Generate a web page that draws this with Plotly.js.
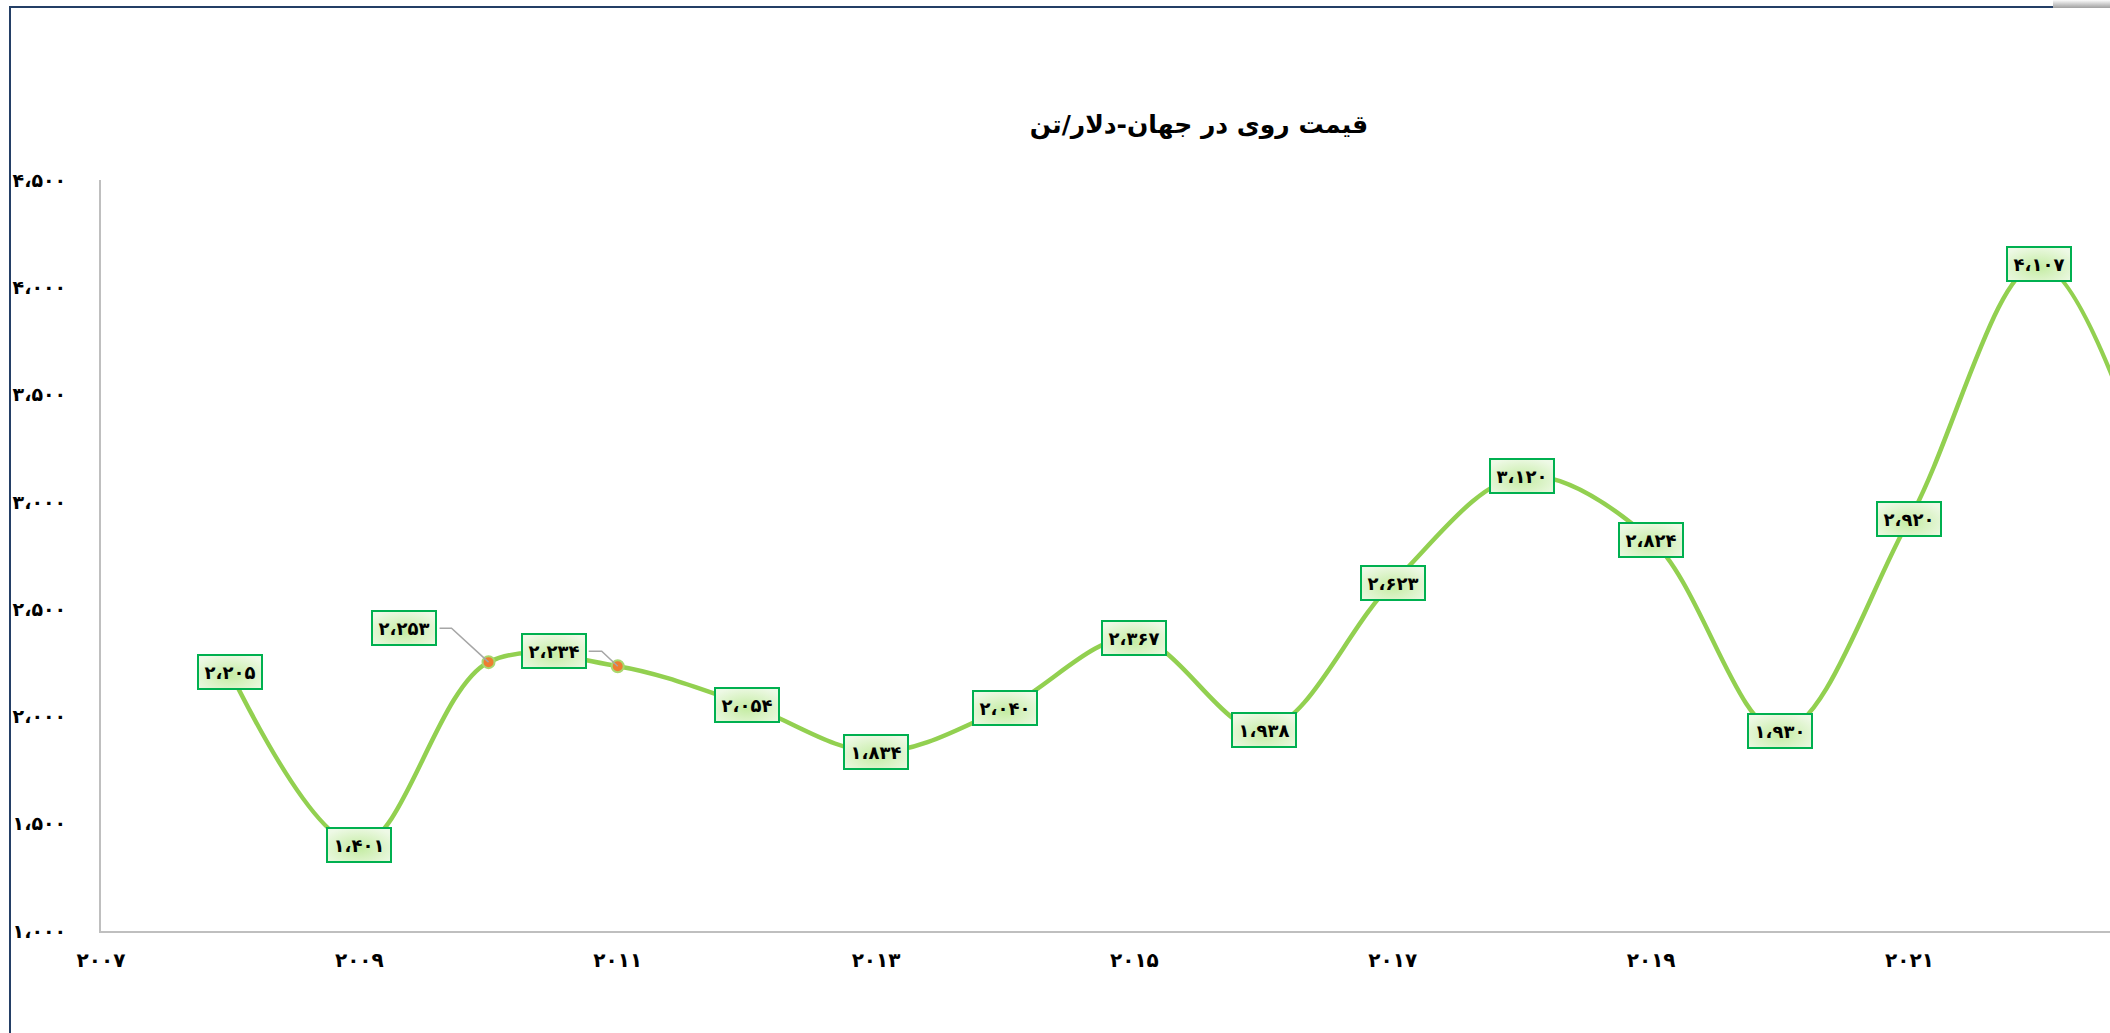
<!DOCTYPE html>
<html><head><meta charset="utf-8">
<script src="https://cdn.plot.ly/plotly-3.0.1.min.js"></script>
<style>
html,body{margin:0;padding:0;background:#fff;overflow:hidden;width:2110px;height:1033px;}
#frame{position:absolute;left:9px;top:6px;border:2px solid #243F66;width:2370px;height:1100px;background:#fff;}
#chart{width:2370px;height:1100px;}
#corner{position:absolute;left:2053px;top:0;width:57px;height:8px;background:linear-gradient(#fbfbfb,#a0a0a0);}
#gdefs{position:absolute;left:0;top:0;width:0;height:0;}
</style></head><body>
<svg id="gdefs" width="0" height="0"><defs>
  <radialGradient id="lblgrad" cx="50%" cy="60%" r="65%">
    <stop offset="0%" stop-color="#C4ECA2"/>
    <stop offset="100%" stop-color="#EEF9E6"/>
  </radialGradient>
</defs></svg>
<div id="frame"><div id="chart"></div></div>
<div id="corner"></div>
<script>
// ---- data ----
const years  = [2008, 2009, 2010, 2011, 2012, 2013, 2014, 2015, 2016, 2017, 2018, 2019, 2020, 2021, 2022, 2023];
const prices = [2205, 1401, 2253, 2234, 2054, 1834, 2040, 2367, 1938, 2623, 3120, 2824, 1930, 2920, 4107, 2850];
const leaderYears = [2010, 2011];
const yTickValues = [1000, 1500, 2000, 2500, 3000, 3500, 4000, 4500];
const xTickValues = [2007, 2009, 2011, 2013, 2015, 2017, 2019, 2021];
const labelledYears = [2008, 2009, 2010, 2011, 2012, 2013, 2014, 2015, 2016, 2017, 2018, 2019, 2020, 2021, 2022];
const chartTitle = 'قیمت روی در جهان-دلار/تن';

// ---- helpers ----
const FA = '۰۱۲۳۴۵۶۷۸۹';
function fa(n, group) {
  let s = String(n);
  if (group && s.length > 3) s = s.slice(0, -3) + '،' + s.slice(-3);
  return s.replace(/\d/g, d => FA[d]);
}
const FONT = 'DejaVu Sans, Noto Sans, sans-serif';
// label box shift (px, y up) and leader path (px, y up) relative to the point
const leaderStyle = {
  2010: {shift: [-85, 34], path: 'M -49 34 L -37 34 L 0 0'},
  2011: {shift: [-64, 15], path: 'M -29 15 L -16 15 L 0 0'}
};

const lineTrace = {
  x: years, y: prices, type: 'scatter', mode: 'lines',
  line: {color: '#92D050', width: 4.5, shape: 'spline', smoothing: 1},
  hoverinfo: 'skip'
};
const markYears = years.filter(y => leaderYears.includes(y));
const markTrace = {
  x: markYears, y: markYears.map(y => prices[years.indexOf(y)]),
  type: 'scatter', mode: 'markers',
  marker: {color: '#ED7D31', size: 12, line: {color: '#A9D86E', width: 2}},
  hoverinfo: 'skip'
};

const annotations = years.filter(y => labelledYears.includes(y)).map(yr => {
  const v = prices[years.indexOf(yr)];
  const st = leaderStyle[yr];
  return {
    x: yr, y: v, xref: 'x', yref: 'y',
    text: fa(v, true), showarrow: false,
    xshift: st ? st.shift[0] : 0, yshift: st ? st.shift[1] : 0,
    bgcolor: '#D6F2C2', bordercolor: '#00B050', borderwidth: 2, borderpad: 0,
    width: 62, height: 32,
    font: {family: FONT, size: 18, color: '#000', weight: 700}
  };
});

const shapes = leaderYears.map(yr => ({
  type: 'path', xref: 'x', yref: 'y',
  xsizemode: 'pixel', ysizemode: 'pixel',
  xanchor: yr, yanchor: prices[years.indexOf(yr)],
  path: leaderStyle[yr].path,
  line: {color: '#A6A6A6', width: 1.5}, layer: 'above'
}));

const layout = {
  width: 2370, height: 1100,
  margin: {l: 90, r: 84, t: 172, b: 177, pad: 0},
  paper_bgcolor: '#fff', plot_bgcolor: '#fff',
  showlegend: false, hovermode: false,
  title: {
    text: chartTitle, x: 0.5, xref: 'paper', xanchor: 'center',
    y: 0.8945, yref: 'container', yanchor: 'middle',
    font: {family: FONT, size: 25, color: '#000', weight: 700}
  },
  xaxis: {
    range: [2007, 2024], showgrid: false, zeroline: false,
    showline: true, linecolor: '#BFBFBF', linewidth: 2,
    ticks: '', tickvals: xTickValues, ticktext: xTickValues.map(v => fa(v, false)),
    ticklabelstandoff: 10,
    tickfont: {family: FONT, size: 20, color: '#000', weight: 700}
  },
  yaxis: {
    range: [1000, 4500], showgrid: false, zeroline: false,
    showline: true, linecolor: '#BFBFBF', linewidth: 2,
    ticks: '', tickvals: yTickValues, ticktext: yTickValues.map(v => fa(v, true)),
    ticklabelstandoff: 29,
    tickfont: {family: FONT, size: 19, color: '#000', weight: 700}
  },
  shapes: shapes,
  annotations: annotations
};

Plotly.newPlot('chart', [lineTrace, markTrace], layout, {staticPlot: true, displayModeBar: false})
  .then(gd => {
    gd.querySelectorAll('.annotation rect.bg').forEach(r => { r.style.fill = 'url(#lblgrad)'; });
  });
</script>
</body></html>
